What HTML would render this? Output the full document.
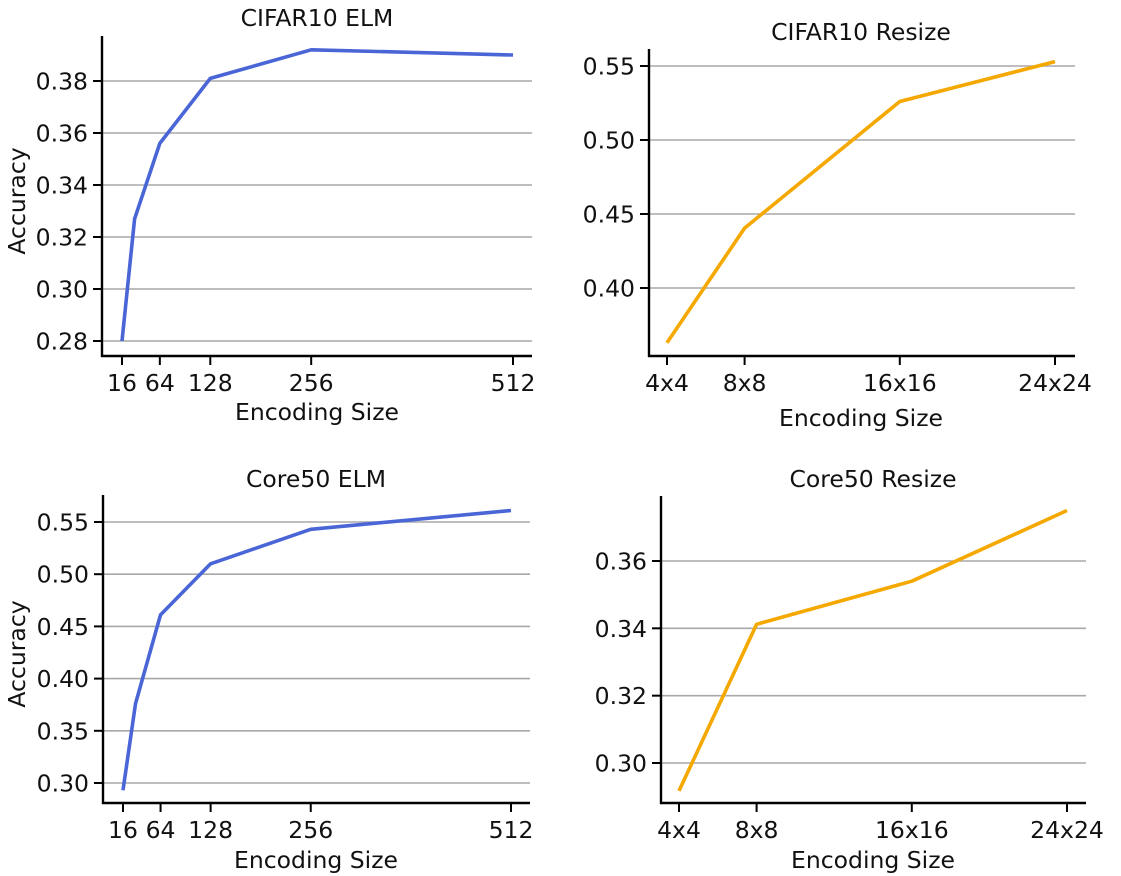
<!DOCTYPE html>
<html><head><meta charset="utf-8"><style>
html,body{margin:0;padding:0;background:#fff;}
svg{display:block;font-family:"DejaVu Sans","Liberation Sans",sans-serif;}
</style></head><body>
<svg id="fig" width="1121" height="876" viewBox="0 0 1121 876" xmlns="http://www.w3.org/2000/svg"></svg>
<script>
// ---- data ----
const elmSizes = [16, 32, 64, 128, 256, 512];
const elmTickLabels = ["16", "64", "128", "256", "512"];
const elmTickValues = [16, 64, 128, 256, 512];
const resizeSizes = [4, 8, 16, 24];
const resizeTickLabels = ["4x4", "8x8", "16x16", "24x24"];
const cifarElmAcc = [0.280, 0.327, 0.356, 0.381, 0.392, 0.390];
const cifarResizeAcc = [0.363, 0.4405, 0.526, 0.553];
const coreElmAcc = [0.293, 0.376, 0.461, 0.510, 0.543, 0.561];
const coreResizeAcc = [0.2917, 0.3412, 0.354, 0.375];
const cifarElmYTicks = [0.28, 0.30, 0.32, 0.34, 0.36, 0.38];
const cifarResizeYTicks = [0.40, 0.45, 0.50, 0.55];
const coreElmYTicks = [0.30, 0.35, 0.40, 0.45, 0.50, 0.55];
const coreResizeYTicks = [0.30, 0.32, 0.34, 0.36];

const NS = "http://www.w3.org/2000/svg";
const svg = document.getElementById('fig');
const FS = 23.5;
function mk(tag, attrs, parent) {
  const e = document.createElementNS(NS, tag);
  for (const k in attrs) e.setAttribute(k, attrs[k]);
  (parent || svg).appendChild(e);
  return e;
}
function lin(d0, d1, r0, r1) { return v => r0 + (v - d0) * (r1 - r0) / (d1 - d0); }

function panel(cfg) {
  const g = mk('g', {});
  
  
  const x = lin(cfg.xd[0], cfg.xd[1], cfg.xr[0], cfg.xr[1]);
  const y = lin(cfg.yd[0], cfg.yd[1], cfg.yr[0], cfg.yr[1]);
  cfg.yTicks.forEach(t => {
    const yy = y(t);
    const gl = mk('line', {x1: cfg.left, x2: cfg.right, y1: yy, y2: yy, stroke: '#a8a8a8', 'stroke-width': 1.6}, g);
    
    
    mk('line', {x1: cfg.left - 9, x2: cfg.left, y1: yy, y2: yy, stroke: '#000', 'stroke-width': 2}, g);
    const tl = mk('text', {x: cfg.left - 14, y: yy + 8.5, 'text-anchor': 'end', 'font-size': FS, fill: '#111'}, g);
    tl.textContent = t.toFixed(2);
    
    
  });
  cfg.xTicks.forEach((t, i) => {
    const xx = x(t);
    mk('line', {x1: xx, x2: xx, y1: cfg.bottom, y2: cfg.bottom + 9, stroke: '#000', 'stroke-width': 2}, g);
    const tl = mk('text', {x: xx, y: cfg.bottom + 35, 'text-anchor': 'middle', 'font-size': FS, fill: '#111'}, g);
    tl.textContent = cfg.xLabels[i];
    
    
  });
  const sp1 = mk('line', {x1: cfg.left, x2: cfg.left, y1: cfg.top, y2: cfg.bottom + 1, stroke: '#000', 'stroke-width': 2.4}, g);
  
  
  const sp2 = mk('line', {x1: cfg.left - 1, x2: cfg.right, y1: cfg.bottom, y2: cfg.bottom, stroke: '#000', 'stroke-width': 2.4}, g);
  
  
  const pts = cfg.xs.map((v, i) => x(v).toFixed(1) + ',' + y(cfg.ys[i]).toFixed(1)).join(' ');
  const pl = mk('polyline', {points: pts, fill: 'none', stroke: cfg.color, 'stroke-width': 3.6, 'stroke-linejoin': 'round'}, g);
  
  
  const tt = mk('text', {x: cfg.titleX, y: cfg.titleY, 'text-anchor': 'middle', 'font-size': FS, fill: '#111'}, g);
  tt.textContent = cfg.title;
  
  
  const xl = mk('text', {x: cfg.titleX, y: cfg.xlabY, 'text-anchor': 'middle', 'font-size': FS, fill: '#111'}, g);
  xl.textContent = 'Encoding Size';
  
  
  if (cfg.ylabel) {
    const cy = (cfg.top + cfg.bottom) / 2 + 5;
    const yl = mk('text', {x: 25, y: cy, 'text-anchor': 'middle', 'font-size': FS, fill: '#111', transform: 'rotate(-90 25 ' + cy + ')'}, g);
    yl.textContent = 'Accuracy';
    
    
  }
}

panel({name: 'cifar10-elm-panel', title: 'CIFAR10 ELM', xs: elmSizes, ys: cifarElmAcc, color: '#4a66d6',
  xTicks: elmTickValues, xLabels: elmTickLabels, yTicks: cifarElmYTicks,
  xd: [16, 512], xr: [122, 513], yd: [0.28, 0.38], yr: [341, 81],
  left: 102, right: 532, top: 36, bottom: 356, titleX: 317, titleY: 26, xlabY: 420, ylabel: true});
panel({name: 'cifar10-resize-panel', title: 'CIFAR10 Resize', xs: resizeSizes, ys: cifarResizeAcc, color: '#f5a800',
  xTicks: resizeSizes, xLabels: resizeTickLabels, yTicks: cifarResizeYTicks,
  xd: [4, 24], xr: [667, 1055], yd: [0.40, 0.55], yr: [288, 66],
  left: 649, right: 1075, top: 49, bottom: 356, titleX: 861, titleY: 40, xlabY: 426, ylabel: false});
panel({name: 'core50-elm-panel', title: 'Core50 ELM', xs: elmSizes, ys: coreElmAcc, color: '#4a66d6',
  xTicks: elmTickValues, xLabels: elmTickLabels, yTicks: coreElmYTicks,
  xd: [16, 512], xr: [123, 511], yd: [0.30, 0.55], yr: [783, 522],
  left: 103, right: 530, top: 495, bottom: 803, titleX: 316, titleY: 487, xlabY: 868, ylabel: true});
panel({name: 'core50-resize-panel', title: 'Core50 Resize', xs: resizeSizes, ys: coreResizeAcc, color: '#f5a800',
  xTicks: resizeSizes, xLabels: resizeTickLabels, yTicks: coreResizeYTicks,
  xd: [4, 24], xr: [679, 1067], yd: [0.30, 0.36], yr: [763, 561],
  left: 661, right: 1086, top: 496, bottom: 803, titleX: 873, titleY: 487, xlabY: 868, ylabel: false});
</script>
</body></html>
